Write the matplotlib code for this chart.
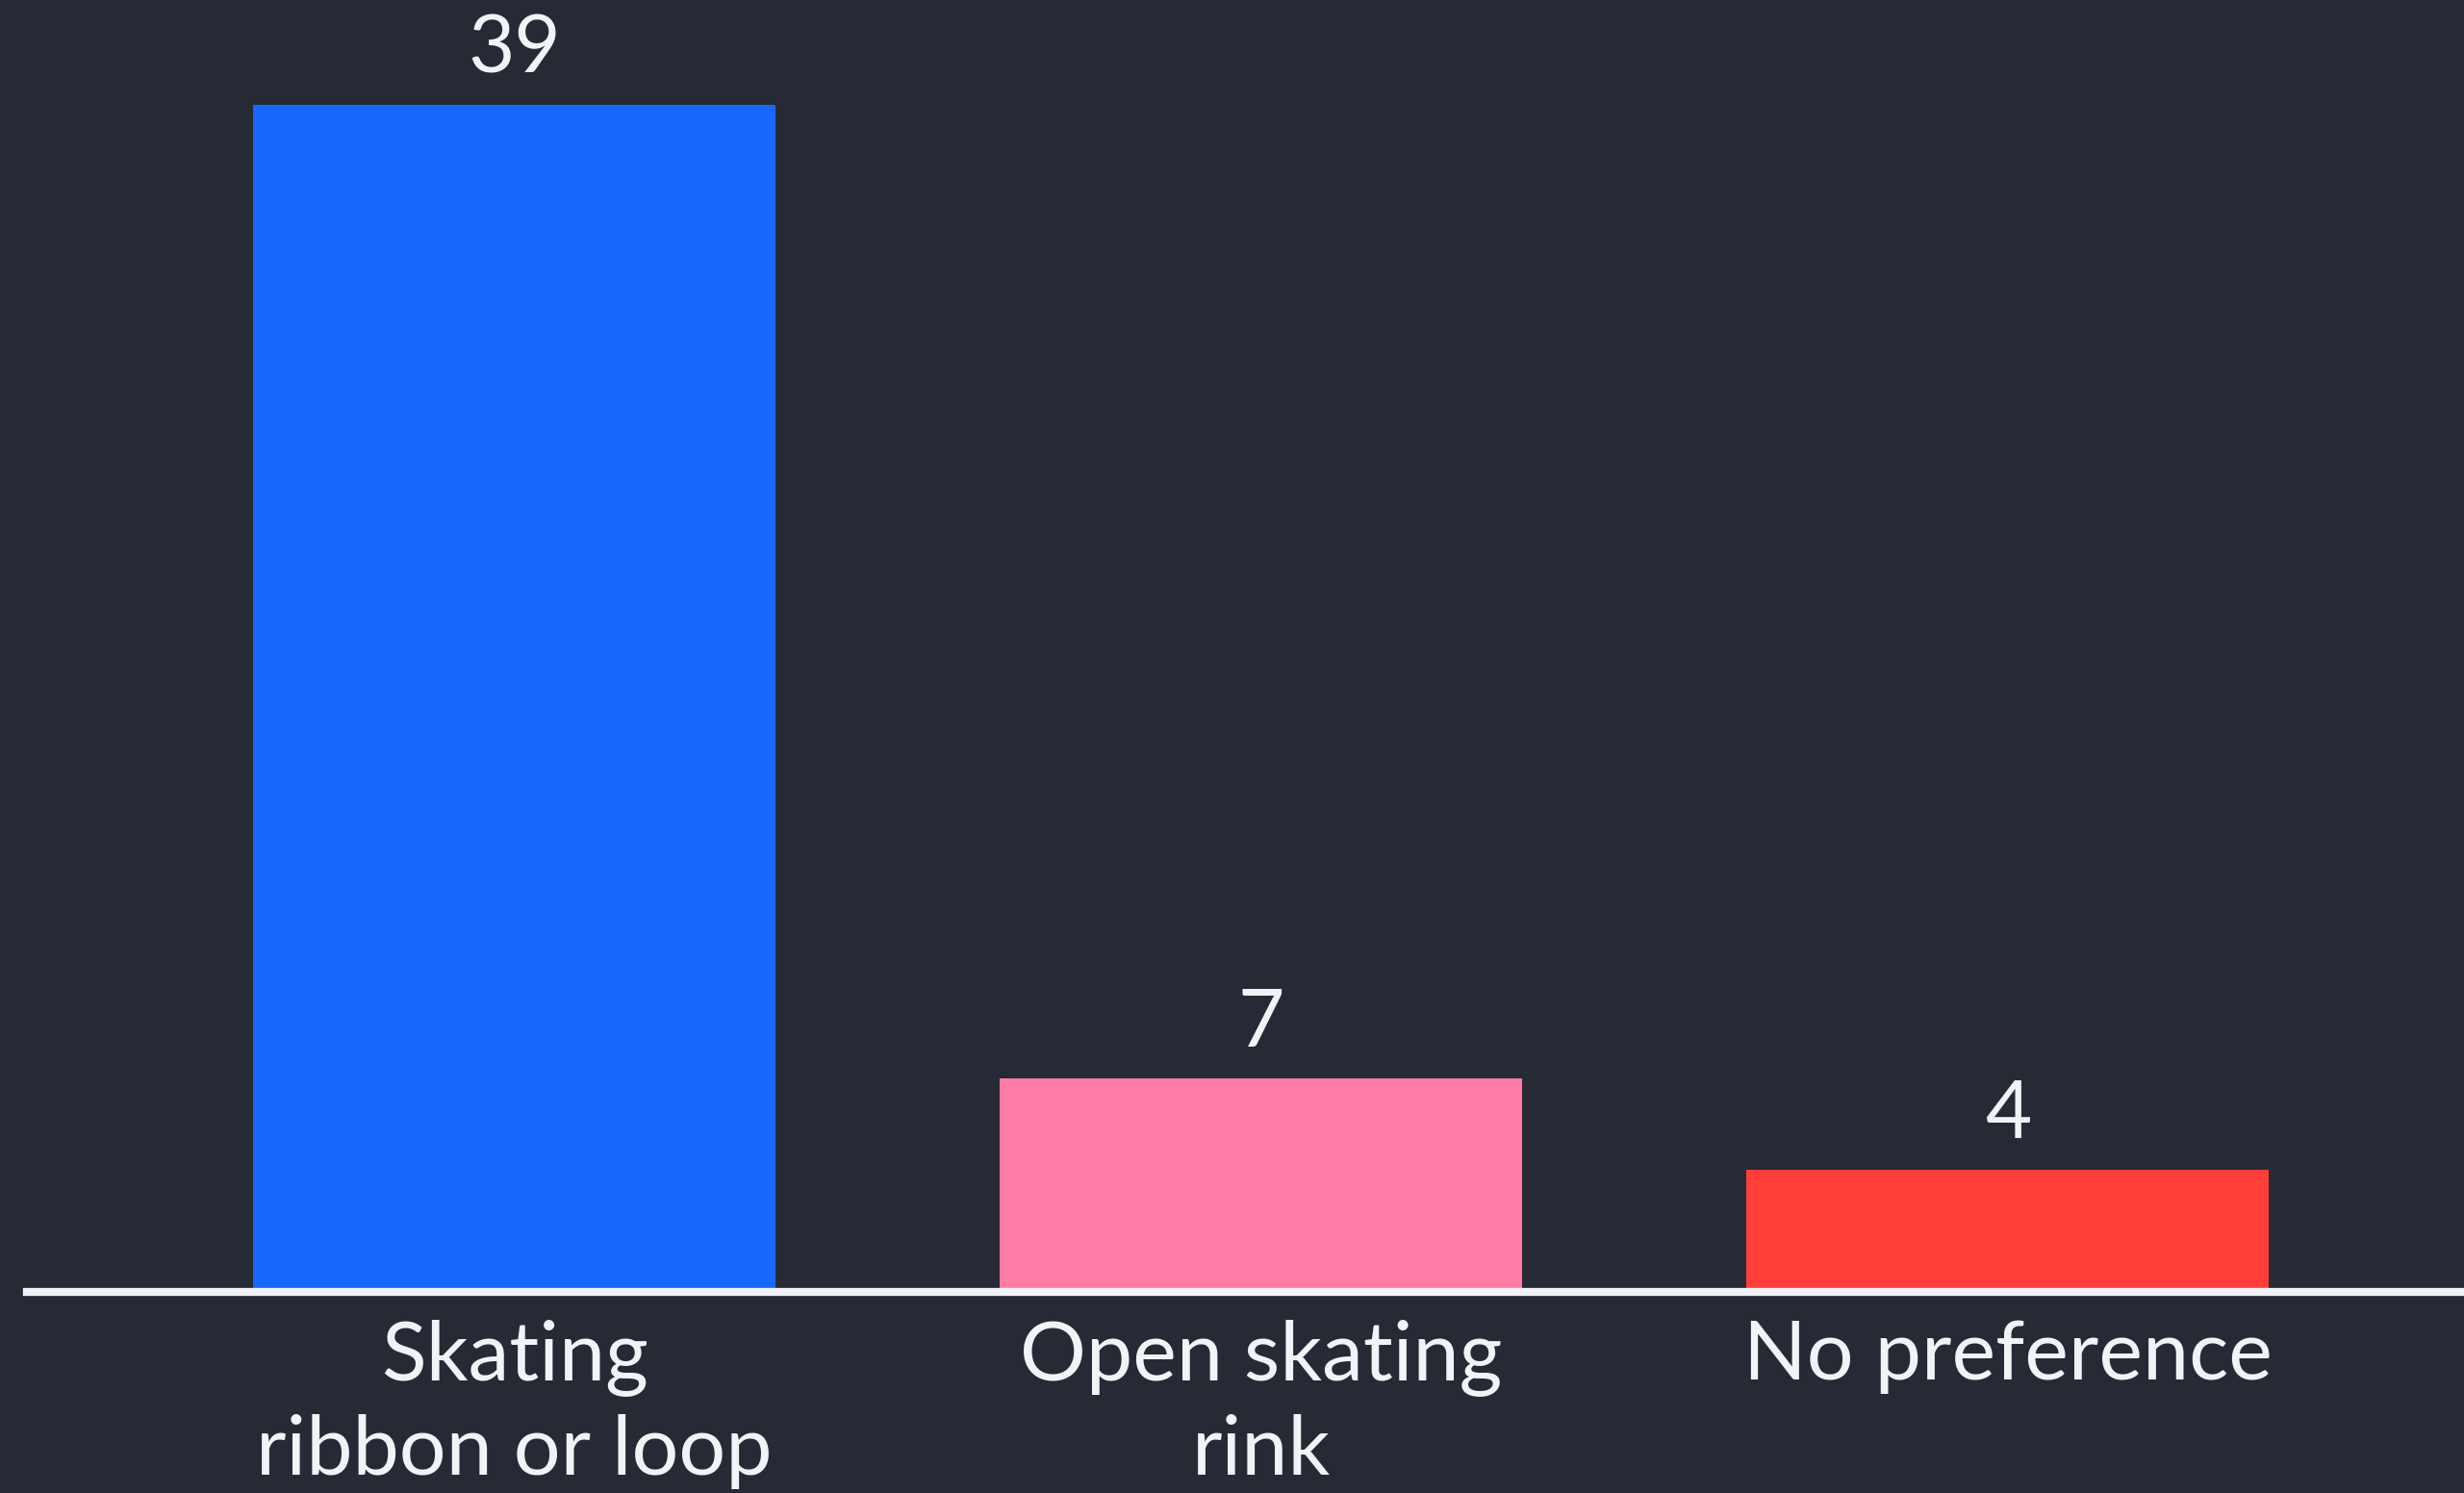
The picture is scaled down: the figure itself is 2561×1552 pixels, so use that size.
import matplotlib.pyplot as plt

# survey answers
categories = ["Skating\nribbon or loop", "Open skating\nrink", "No preference"]
votes = [39, 7, 4]
bar_colors = ["#1967FD", "#FF7CA6", "#FF3E3A"]

bg = "#262A34"
txt = "#F2F3F7"

plt.rcParams['font.family'] = ['Lato', 'DejaVu Sans']

fig = plt.figure(figsize=(25.61, 15.52), dpi=100, facecolor=bg)
ax = fig.add_axes([28 / 2561, (1552 - 1343) / 1552, 1 - 28 / 2561, 1343 / 1552])
ax.set_facecolor(bg)

x = range(len(votes))
bars = ax.bar(x, votes, width=0.70, color=bar_colors, zorder=2)

# value labels above the bars
for b, v in zip(bars, votes):
    ax.annotate(str(v), (b.get_x() + b.get_width() / 2, v),
                xytext=(0, 13), textcoords="offset points",
                ha="center", va="bottom", fontsize=60, color=txt)

ax.set_xlim(-0.653, 2.611)
ax.set_ylim(0, 1343 / 31.65)

ax.set_xticks(list(x))
ax.set_xticklabels(categories, fontsize=62, color=txt, linespacing=1.3)
ax.tick_params(axis="x", length=0, pad=20)
ax.set_yticks([])

for side in ["top", "left", "right"]:
    ax.spines[side].set_visible(False)
ax.spines["bottom"].set_color(txt)
ax.spines["bottom"].set_linewidth(6)
ax.spines["bottom"].set_zorder(3)

fig.savefig("out.png", dpi=100, facecolor=bg)
